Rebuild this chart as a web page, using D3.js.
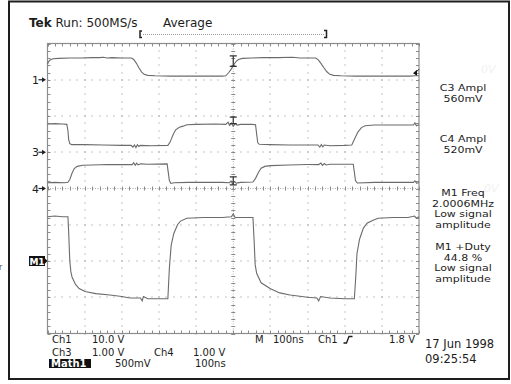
<!DOCTYPE html>
<html>
<head>
<meta charset="utf-8">
<script src="https://cdn.jsdelivr.net/npm/d3@7"></script>
<style>
  html, body { margin: 0; padding: 0; background: #fff; }
  svg { display: block; }
  text { font-family: "DejaVu Sans", sans-serif; fill: #1c1c1c; }
</style>
</head>
<body>
<svg id="scope" width="511" height="384"></svg>
<script>
// ---- acquisition: 10 divisions x 100 ns, 8 vertical divisions ----
const timeDomain = [0, 1000];          // ns across the screen
const divDomain = [-4, 4];             // vertical divisions
const triggerTime = 500;               // ns, trigger position

// channel scale (V/div) and ground position (div from centre)
const ch1Scale = 10,  ch1Ground = 3;
const ch3Scale = 1,   ch3Ground = 1;
const ch4Scale = 1,   ch4Ground = 0;
const m1Scale = 0.5,  m1Ground = -2;
const ch1TriggerLevel = 1.8;           // V

// traces: [time ns, volts]
const ch1Trace = [
  [0,4.3],[3,5.0],[8,5.5],[15,5.8],[30,5.9],[60,6.0],[90,6.0],[120,6.1],[140,6.1],[150,6.2],
  [160,6.0],[175,6.1],[200,6.0],[226,6.0],[232,5.6],[239,4.6],[246,3.3],[253,2.2],[260,1.5],
  [270,1.2],[290,1.1],[330,1.0],[380,1.0],[430,1.0],[470,1.0],[480,1.1],[488,2.0],[495,3.0],
  [502,4.2],[508,5.1],[514,5.6],[525,5.9],[550,6.0],[580,6.1],[620,6.1],[660,6.2],[680,6.0],
  [700,6.0],[722,6.0],[729,5.5],[736,4.5],[744,3.3],[752,2.2],[760,1.5],[770,1.2],[790,1.1],
  [830,1.0],[880,1.0],[930,1.0],[975,1.0],[990,1.1],[1000,1.1]
];
const ch3Trace = [
  [0,0.78],[20,0.79],[40,0.78],[52,0.77],[55,0.6],[57,0.35],[60,0.24],[65,0.21],[100,0.21],
  [150,0.20],[200,0.19],[225,0.19],[230,0.14],[234,0.20],[238,0.13],[242,0.21],[246,0.16],
  [250,0.19],[280,0.18],[324,0.19],[330,0.28],[338,0.48],[345,0.62],[355,0.69],[365,0.72],
  [375,0.76],[400,0.77],[450,0.78],[480,0.77],[486,0.83],[490,0.74],[495,0.81],[500,0.72],
  [505,0.79],[510,0.75],[520,0.77],[550,0.77],[560,0.76],[563,0.5],[566,0.26],[570,0.22],
  [600,0.21],[650,0.20],[700,0.20],[728,0.20],[733,0.14],[737,0.21],[741,0.15],[745,0.20],
  [760,0.18],[800,0.19],[819,0.20],[825,0.33],[835,0.55],[845,0.68],[855,0.73],[880,0.75],
  [920,0.75],[960,0.75],[985,0.75],[989,0.81],[993,0.73],[1000,0.76]
];
const ch4Trace = [
  [0,0.16],[20,0.17],[45,0.16],[55,0.17],[60,0.25],[66,0.42],[72,0.55],[80,0.61],[95,0.64],
  [120,0.65],[160,0.66],[200,0.66],[228,0.66],[232,0.71],[236,0.64],[240,0.70],[244,0.65],
  [250,0.68],[270,0.67],[322,0.68],[325,0.45],[328,0.22],[332,0.14],[340,0.16],[380,0.17],
  [430,0.17],[470,0.17],[490,0.16],[494,0.21],[498,0.13],[503,0.19],[508,0.15],[520,0.17],
  [553,0.18],[560,0.28],[568,0.45],[575,0.56],[585,0.61],[600,0.63],[650,0.65],[700,0.66],
  [730,0.66],[736,0.70],[740,0.64],[745,0.69],[750,0.65],[760,0.67],[800,0.67],[823,0.67],
  [826,0.45],[829,0.22],[834,0.15],[880,0.17],[940,0.17],[985,0.17],[989,0.21],[994,0.14],[1000,0.17]
];
const m1Trace = [
  [0,0.61],[20,0.62],[40,0.61],[55,0.61],[57,0.40],[60,0.0],[63,-0.15],[66,-0.22],[75,-0.32],
  [85,-0.38],[101,-0.42],[130,-0.45],[168,-0.47],[200,-0.49],[222,-0.51],[250,-0.51],
  [255,-0.55],[258,-0.49],[270,-0.52],[300,-0.52],[324,-0.52],[328,-0.1],[333,0.22],
  [340,0.38],[350,0.50],[358,0.55],[375,0.59],[420,0.60],[470,0.60],[495,0.61],[500,0.65],
  [505,0.60],[540,0.60],[553,0.60],[556,0.30],[559,-0.05],[563,-0.17],[575,-0.30],[599,-0.38],
  [625,-0.44],[653,-0.47],[700,-0.50],[725,-0.51],[730,-0.55],[735,-0.49],[760,-0.51],
  [800,-0.52],[826,-0.52],[830,-0.2],[833,0.10],[840,0.30],[850,0.45],[860,0.52],[875,0.56],
  [890,0.59],[930,0.60],[970,0.60],[988,0.62],[993,0.59],[1000,0.61]
];

// readouts
const headerLabels = ["Run: 500MS/s", "Average"];
const measureLines = [
  ["C3 Ampl", "560mV"],
  ["C4 Ampl", "520mV"],
  ["M1 Freq", "2.0006MHz", "Low signal", "amplitude"],
  ["M1 +Duty", "44.8 %", "Low signal", "amplitude"]
];
const footerRow1 = ["Ch1", "10.0 V", "M", "100ns", "Ch1", "1.8 V"];
const footerRow2 = ["Ch3", "1.00 V", "Ch4", "1.00 V"];
const footerRow3 = ["Math1", "500mV", "100ns"];
const dateLabels = ["17 Jun 1998", "09:25:54"];

// ---- drawing ----
const svg = d3.select("#scope");
const x = d3.scaleLinear().domain(timeDomain).range([47.5, 419]);
const y = d3.scaleLinear().domain(divDomain).range([333.5, 43.5]);

const gridColor = "#8a8a8a";
const traceColor = "#6b6b6b";

// outer frame
svg.append("rect").attr("x", 9).attr("y", 1.5).attr("width", 500).attr("height", 377.5)
  .attr("fill", "none").attr("stroke", "#1e1e1e").attr("stroke-width", 2);

// graticule dots
const grid = svg.append("g");
const minorT = d3.range(0, 1000.1, 20);
const minorD = d3.range(-4, 4.01, 0.2);
const majorT = d3.range(100, 1000, 100).filter(t => t !== triggerTime);
const majorD = d3.range(-3, 4, 1).filter(d => d !== 0);
majorT.forEach(t => {
  grid.selectAll(null).data(minorD).enter().append("rect")
    .attr("x", Math.round(x(t)) - 0.5).attr("y", d => Math.round(y(d)) - 0.5)
    .attr("width", 1).attr("height", 1).attr("fill", gridColor);
});
majorD.forEach(dv => {
  grid.selectAll(null).data(minorT).enter().append("rect")
    .attr("x", t => Math.round(x(t)) - 0.5).attr("y", Math.round(y(dv)) - 0.5)
    .attr("width", 1).attr("height", 1).attr("fill", gridColor);
});
// centre cross with minor ticks
grid.append("line").attr("x1", x(triggerTime)).attr("x2", x(triggerTime))
  .attr("y1", y(4)).attr("y2", y(-4)).attr("stroke", "#b0b0b0").attr("stroke-dasharray", "1,1.5");
grid.append("line").attr("x1", x(0)).attr("x2", x(1000))
  .attr("y1", y(0)).attr("y2", y(0)).attr("stroke", "#b0b0b0").attr("stroke-dasharray", "1,1.5");
grid.selectAll(null).data(minorD).enter().append("line")
  .attr("x1", x(triggerTime) - 2).attr("x2", x(triggerTime) + 2)
  .attr("y1", d => Math.round(y(d)) + 0.5).attr("y2", d => Math.round(y(d)) + 0.5)
  .attr("stroke", gridColor);
grid.selectAll(null).data(minorT).enter().append("line")
  .attr("x1", t => Math.round(x(t)) + 0.5).attr("x2", t => Math.round(x(t)) + 0.5)
  .attr("y1", y(0) - 2).attr("y2", y(0) + 2).attr("stroke", gridColor);
// border with inward ticks
grid.append("rect").attr("x", x(0)).attr("y", y(4)).attr("width", x(1000) - x(0))
  .attr("height", y(-4) - y(4)).attr("fill", "none").attr("stroke", "#8c8c8c").attr("stroke-width", 1.2);
grid.selectAll(null).data(minorT).enter().append("path")
  .attr("d", t => `M${Math.round(x(t)) + 0.5},${y(4)}v3M${Math.round(x(t)) + 0.5},${y(-4)}v-3`)
  .attr("stroke", gridColor);
grid.selectAll(null).data(minorD).enter().append("path")
  .attr("d", d => `M${x(0)},${Math.round(y(d)) + 0.5}h3M${x(1000)},${Math.round(y(d)) + 0.5}h-3`)
  .attr("stroke", gridColor);

// traces
const traces = [
  { data: ch1Trace, scale: ch1Scale, ground: ch1Ground },
  { data: ch3Trace, scale: ch3Scale, ground: ch3Ground },
  { data: ch4Trace, scale: ch4Scale, ground: ch4Ground },
  { data: m1Trace,  scale: m1Scale,  ground: m1Ground }
];
traces.forEach(tr => {
  const line = d3.line().x(d => x(d[0])).y(d => y(d[1] / tr.scale + tr.ground));
  svg.append("path").datum(tr.data).attr("d", line)
    .attr("fill", "none").attr("stroke", traceColor).attr("stroke-width", 1.1);
});

// measurement cursors at the trigger time (span in divisions)
const cursorSpans = [
  [ch1Ground + 0.66, ch1Ground + 0.37],
  [ch3Ground + 0.97, ch3Ground + 0.79],
  [ch4Ground + 0.32, ch4Ground + 0.10]
];
cursorSpans.forEach(([top, bot]) => {
  const cx = x(triggerTime), y0 = y(top), y1 = y(bot);
  svg.append("path").attr("d", `M${cx - 3.5},${y0}H${cx + 3.5}M${cx},${y0}V${y1}M${cx - 3.5},${y1}H${cx + 3.5}`)
    .attr("stroke", "#333").attr("stroke-width", 1.2).attr("fill", "none");
});

// trigger level arrow on the right edge
const ty = y(ch1TriggerLevel / ch1Scale + ch1Ground);
svg.append("path").attr("d", `M${x(1000) - 6},${ty} L${x(1000) - 2},${ty - 3.5} L${x(1000) - 2},${ty + 2.5}Z`)
  .attr("fill", "#111");
svg.append("path").attr("d", `M${x(1000) - 3},${ty - 1} L${x(1000)},${ty - 4}`)
  .attr("stroke", "#111").attr("stroke-width", 1);

// ground markers on the left
[["1", ch1Ground], ["3", ch3Ground], ["4", ch4Ground]].forEach(([lab, g]) => {
  const gy = y(g);
  svg.append("text").attr("x", 32).attr("y", gy + 4).attr("font-size", 11).text(lab);
  svg.append("path").attr("d", `M38.5,${gy}H43`).attr("stroke", "#222").attr("stroke-width", 1.2);
  svg.append("path").attr("d", `M46,${gy}L42,${gy - 2.5}L42,${gy + 2.5}Z`).attr("fill", "#222");
});
{
  const gy = y(m1Ground);
  svg.append("rect").attr("x", 29).attr("y", gy - 5).attr("width", 16).attr("height", 10).attr("fill", "#111");
  svg.append("path").attr("d", `M45,${gy - 2.5}L47.5,${gy}L45,${gy + 2.5}Z`).attr("fill", "#111");
  svg.append("text").attr("x", 37).attr("y", gy + 3.5).attr("font-size", 9).attr("font-weight", "bold")
    .attr("text-anchor", "middle").style("fill", "#fff").text("M1");
}
svg.append("text").attr("x", -1).attr("y", 270).attr("font-size", 8).style("fill", "#555").text("r");

// header
const hdr = svg.append("text").attr("x", 29).attr("y", 27).attr("font-size", 12);
hdr.append("tspan").attr("font-weight", "bold").text("Tek");
hdr.append("tspan").text(" " + headerLabels[0]);
svg.append("text").attr("x", 163).attr("y", 27).attr("font-size", 12).text(headerLabels[1]);
// record view bracket
svg.append("path").attr("d", "M142,31H140V37.5H142").attr("stroke", "#222").attr("stroke-width", 1.5).attr("fill", "none");
svg.append("path").attr("d", "M324,30.5H326.5V37.5H324").attr("stroke", "#222").attr("stroke-width", 1.5).attr("fill", "none");
svg.append("line").attr("x1", 143).attr("x2", 324).attr("y1", 34.5).attr("y2", 34.5)
  .attr("stroke", "#9a9a9a").attr("stroke-dasharray", "1,1");

// faint offset marks on the right
svg.append("text").attr("x", 481).attr("y", 73).attr("font-size", 11).attr("font-style", "italic").style("fill", "#f1f1f1").text("0V");
svg.append("text").attr("x", 484).attr("y", 192).attr("font-size", 11).attr("font-style", "italic").style("fill", "#f1f1f1").text("0V");

// measurement readouts: compact screen font, squeezed vertically
const blockTops = [87, 138, 192, 246];
const lineStep = 10.9;
measureLines.forEach((lines, i) => {
  svg.append("g").selectAll("text").data(lines).enter().append("text")
    .attr("transform", (d, k) => `translate(463,${blockTops[i] + 3.6 + k * lineStep}) scale(1,0.84)`)
    .attr("font-size", 11).attr("text-anchor", "middle").text(d => d);
});

// footer
const fs = 10;
const f1x = [52, 92, 255, 273, 318];
footerRow1.slice(0, 5).forEach((t, i) => svg.append("text").attr("x", f1x[i]).attr("y", 343).attr("font-size", fs).text(t));
svg.append("text").attr("x", 415).attr("y", 343).attr("font-size", fs).attr("text-anchor", "end").text(footerRow1[5]);
svg.append("path").attr("d", "M343.5,343H346.5L349,336.5H352.5").attr("stroke", "#1c1c1c").attr("stroke-width", 1.3).attr("fill", "none");
const f2x = [52, 92, 154, 193];
footerRow2.forEach((t, i) => svg.append("text").attr("x", f2x[i]).attr("y", 355.5).attr("font-size", fs).text(t));
svg.append("rect").attr("x", 49).attr("y", 359).attr("width", 42).attr("height", 9).attr("fill", "#111");
svg.append("text").attr("x", 51).attr("y", 367).attr("font-size", fs).attr("font-weight", "bold").style("fill", "#fff").text(footerRow3[0]);
svg.append("text").attr("x", 115).attr("y", 367).attr("font-size", fs).text(footerRow3[1]);
svg.append("text").attr("x", 195).attr("y", 367).attr("font-size", fs).text(footerRow3[2]);
svg.append("text").attr("x", 425).attr("y", 348).attr("font-size", 11.5).text(dateLabels[0]);
svg.append("text").attr("x", 425).attr("y", 363).attr("font-size", 11.5).text(dateLabels[1]);
</script>
</body>
</html>
